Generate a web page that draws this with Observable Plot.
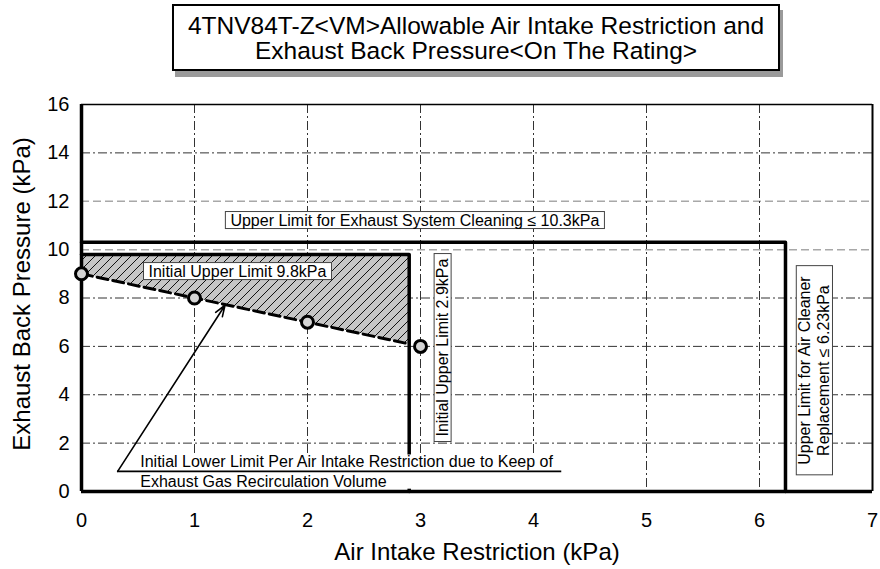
<!DOCTYPE html>
<html>
<head>
<meta charset="utf-8">
<script src="https://cdn.jsdelivr.net/npm/d3@7"></script>
<script src="https://cdn.jsdelivr.net/npm/@observablehq/plot@0.6"></script>
<style>
  html, body { margin: 0; padding: 0; background: #fff; }
  body { font-family: "Liberation Sans", Arial, Helvetica, sans-serif; }
  #wrap { width: 880px; height: 569px; position: relative; overflow: hidden; }
  #title { height: 90px; position: relative; }
  #tbox {
    position: absolute; top: 4px; left: 476px; transform: translateX(-50%);
    white-space: nowrap; text-align: center; background: #fff;
    border: 2px solid #000; padding: 7px 14px 6px 14px;
    font-size: 24.5px; line-height: 25px; color: #000;
    box-shadow: 3px 6px 0 #9a9a9a;
  }
  #chart svg { display: block; }
</style>
</head>
<body>
<div id="wrap">
  <div id="title"><div id="tbox">4TNV84T-Z&lt;VM&gt;Allowable Air Intake Restriction and<br>Exhaust Back Pressure&lt;On The Rating&gt;</div></div>
  <div id="chart"></div>
</div>
<script>
// ---- data ----
const xTicks = [0, 1, 2, 3, 4, 5, 6, 7];
const yTicks = [0, 2, 4, 6, 8, 10, 12, 14, 16];
const darkGridY = [2, 4, 6, 8, 14];
const lightGridY = [10, 12];
const gridX = [1, 2, 3, 4, 5, 6];

const pointX = [0, 1, 2, 3];
const pointY = [9, 8, 7, 6];

const lowerLimitX = [0, 2.9];
const lowerLimitY = [9.0, 6.1];

const initialUpperY = 9.8;       // Initial upper limit exhaust
const initialUpperX = 2.9;       // Initial upper limit intake
const cleaningLimitY = 10.3;     // exhaust system cleaning
const airCleanerLimitX = 6.23;   // air cleaner replacement

const arrowStart = [0.32, 0.83];
const arrowEnd = [1.27, 7.7];
const noteLineX = [0.32, 4.25];
const noteLineY = 0.83;

const boxedLabels = ["Upper Limit for Exhaust System Cleaning ≤ 10.3kPa", "Initial Upper Limit 9.8kPa", "Initial Upper Limit 2.9kPa", "Upper Limit for Air Cleaner\nReplacement ≤ 6.23kPa"];
const boxedX = [2.95, 1.38, 3.19, 6.48];
const boxedY = [11.25, 9.14, 5.95, 5.0];
const boxedRotate = [0, 0, -90, -90];

const noteText = ["Initial Lower Limit Per Air Intake Restriction due to Keep of\nExhaust Gas Recirculation Volume"];
const noteX = [0.52];
const noteY = [0.85];

const xLabel = "Air Intake Restriction (kPa)";
const yLabel = "Exhaust Back Pressure (kPa)";

// ---- derived tables ----
const points = pointX.map((x, i) => ({x, y: pointY[i]}));
const hatch = lowerLimitX.map((x, i) => ({x, y1: lowerLimitY[i], y2: initialUpperY}));
const lowerLine = lowerLimitX.map((x, i) => ({x, y: lowerLimitY[i]}));
const initialBox = [[0, initialUpperY], [initialUpperX, initialUpperY], [initialUpperX, 0]];
const cleaningBox = [[0, cleaningLimitY], [airCleanerLimitX, cleaningLimitY], [airCleanerLimitX, 0]];
const boxed = boxedLabels.map((t, i) => ({t, x: boxedX[i], y: boxedY[i], r: boxedRotate[i]}));
const notes = noteText.map((t, i) => ({t, x: noteX[i], y: noteY[i]}));

const chart = Plot.plot({
  width: 880,
  height: 479,
  marginTop: 14,
  marginBottom: 78,
  marginLeft: 81,
  marginRight: 8,
  style: {fontFamily: "'Liberation Sans', Arial, Helvetica, sans-serif", fontSize: "16px", background: "#fff", color: "#000"},
  x: {domain: [0, 7]},
  y: {domain: [0, 16]},
  marks: [
    Plot.ruleY(darkGridY, {stroke: "#333", strokeWidth: 1, strokeDasharray: "9,3,2,3"}),
    Plot.ruleY(lightGridY, {stroke: "#a8a8a8", strokeWidth: 1.5, strokeDasharray: "8,4"}),
    Plot.ruleX(gridX, {stroke: "#333", strokeWidth: 1, strokeDasharray: "9,3,2,3"}),
    Plot.areaY(hatch, {x: "x", y1: "y1", y2: "y2", fill: "url(#hatch)", curve: "linear"}),
    Plot.line(lowerLine, {x: "x", y: "y", stroke: "#000", strokeWidth: 3, strokeDasharray: "11,5"}),
    Plot.line(initialBox, {stroke: "#000", strokeWidth: 3.5}),
    Plot.line(cleaningBox, {stroke: "#000", strokeWidth: 3.5}),
    Plot.ruleY([16], {stroke: "#000", strokeWidth: 1.5}),
    Plot.ruleX([7], {stroke: "#000", strokeWidth: 2}),
    Plot.ruleX([0], {stroke: "#000", strokeWidth: 3.5}),
    Plot.ruleY([0], {stroke: "#000", strokeWidth: 3.5}),
    Plot.dot(points, {x: "x", y: "y", r: 6, stroke: "#000", strokeWidth: 3, fill: "#d4d4d4"}),
    Plot.arrow([{x1: arrowStart[0], y1: arrowStart[1], x2: arrowEnd[0], y2: arrowEnd[1]}], {x1: "x1", y1: "y1", x2: "x2", y2: "y2", stroke: "#000", strokeWidth: 1.6, headLength: 11, headAngle: 40}),
    Plot.text(notes, {x: "x", y: "y", text: "t", textAnchor: "start", fontSize: 16, lineHeight: 1.2, fill: "#000", ariaDescription: "whitebox"}),
    Plot.ruleY([noteLineY], {x1: noteLineX[0], x2: noteLineX[1], stroke: "#000", strokeWidth: 1.6}),
    Plot.text(boxed, {x: "x", y: "y", text: "t", rotate: "r", fontSize: 16, lineHeight: 1.2, fill: "#000", ariaDescription: "boxed"}),
    Plot.axisX(xTicks, {tickSize: 0, tickPadding: 21, fontSize: 20, label: null}),
    Plot.axisY(yTicks, {tickSize: 0, tickPadding: 12, fontSize: 20, label: null}),
    Plot.text([xLabel], {frameAnchor: "bottom", dy: 61, lineAnchor: "middle", textAnchor: "middle", fontSize: 24, fill: "#000"}),
    Plot.text([yLabel], {frameAnchor: "left", dx: -59, dy: -4, rotate: -90, textAnchor: "middle", lineAnchor: "middle", fontSize: 24, fill: "#000"})
  ]
});

document.getElementById("chart").append(chart);

const ns = "http://www.w3.org/2000/svg";
const svg = chart.tagName.toLowerCase() === "svg" ? chart : chart.querySelector("svg");
const defs = document.createElementNS(ns, "defs");
defs.innerHTML = '<pattern id="hatch" patternUnits="userSpaceOnUse" width="9" height="9">' +
  '<rect width="9" height="9" fill="#c6c6c6"/>' +
  '<path d="M0,9L9,0M-2,2L2,-2M7,11L11,7" stroke="#111" stroke-width="1"/></pattern>';
svg.insertBefore(defs, svg.firstChild);

// locate the text groups (by description, else by order of text marks)
const textGroups = Array.from(svg.querySelectorAll('g[aria-label="text"]'));
function groupFor(desc, index) {
  return svg.querySelector('g[aria-description="' + desc + '"]') || textGroups[index];
}
function addBoxes(g, padX, padY, stroke) {
  if (!g) return;
  g.querySelectorAll("text").forEach(t => {
    const b = t.getBBox();
    const multi = t.querySelectorAll("tspan").length > 1;
    const px = multi && stroke !== "none" ? padX * 2 : padX;
    const r = document.createElementNS(ns, "rect");
    r.setAttribute("x", b.x - px);
    r.setAttribute("y", b.y - padY);
    r.setAttribute("width", b.width + 2 * px);
    r.setAttribute("height", b.height + 2 * padY);
    r.setAttribute("fill", "#fff");
    r.setAttribute("stroke", stroke);
    r.setAttribute("stroke-width", stroke === "none" ? 0 : 1);
    const tr = t.getAttribute("transform");
    if (tr) r.setAttribute("transform", tr);
    t.parentNode.insertBefore(r, t);
  });
}
addBoxes(groupFor("boxed", 1), 5, 0, "#444");
addBoxes(groupFor("whitebox", 0), 0, -1, "none");
</script>
</body>
</html>
